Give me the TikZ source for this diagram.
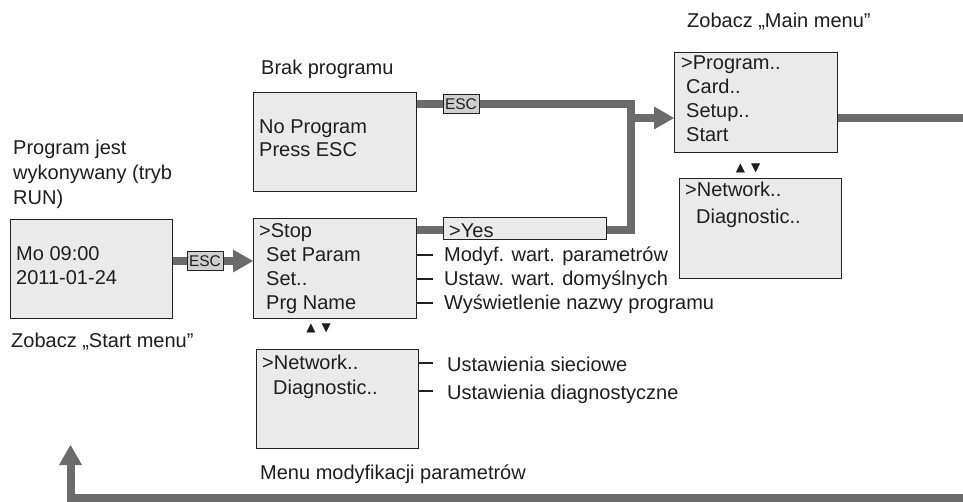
\documentclass[tikz,border=0pt]{standalone}
\usepackage{fontspec}
\setmainfont{Liberation Sans}
\newfontfamily\symf{DejaVu Sans}
\usetikzlibrary{arrows.meta}
\definecolor{boxfill}{HTML}{EAEAEA}
\definecolor{boxline}{HTML}{222222}
\definecolor{conn}{HTML}{6B6B6B}
\definecolor{escfill}{HTML}{CFCFCF}
\definecolor{ink}{HTML}{1E1E1E}
\begin{document}
\begin{tikzpicture}[x=1pt,y=-1pt,
  box/.style={draw=boxline,fill=boxfill,line width=1.3pt,inner sep=0pt,anchor=north west},
  lbl/.style={anchor=base west,inner sep=0pt,text=ink,font=\fontsize{20}{24}\selectfont},
  escbox/.style={draw=boxline,fill=escfill,line width=1pt,inner sep=0pt,minimum width=36pt,minimum height=19pt,font=\fontsize{15.5}{15.5}\selectfont,text=ink},
  wire/.style={draw=conn,line width=8pt},
  arr/.style={wire,-{Triangle[length=20pt,width=23pt,line width=0pt]}},
  tickln/.style={draw=boxline,line width=2pt},
  updn/.style={inner sep=0pt,font=\symf\fontsize{12}{12}\selectfont,text=ink}]
\useasboundingbox (0,0) rectangle (963,502);
\fill[white] (0,0) rectangle (963,502);

% boxes
\node[box,minimum width=162pt,minimum height=99pt] (run) at (10,219) {};
\node[box,minimum width=163pt,minimum height=99pt] (nop) at (253,92) {};
\node[box,minimum width=163pt,minimum height=100pt] (stop) at (253,218) {};
\node[box,minimum width=163pt,minimum height=22pt] (yes) at (443,217) {};
\node[box,minimum width=162pt,minimum height=99pt] (net) at (256,349) {};
\node[box,minimum width=163pt,minimum height=100pt] (main) at (674,52) {};
\node[box,minimum width=162pt,minimum height=100pt] (net2) at (679,178) {};

% connectors
\coordinate (a1) at (0,261);
\draw[arr] (a1 -| run.east) -- (a1 -| stop.west);
\node[escbox] (e1) at (205,261) {ESC};

\coordinate (j1) at (631,104);
\coordinate (j2) at (631,230);
\coordinate (j3) at (631,118);
\draw[wire] (j1 -| nop.east) -- (j1) -- (j2) -- (j2 -| yes.east);
\node[escbox] (e2) at (461,104) {ESC};
\draw[arr] (j3) -- (j3 -| main.west);
\draw[wire] (stop.east |- j2) -- (yes.west |- j2);

\coordinate (r1) at (975,118);
\draw[wire] (main.east |- r1) -- (r1);

\coordinate (b1) at (975,498);
\coordinate (b2) at (70.5,498);
\coordinate (b3) at (70.5,445);
\draw[arr] (b1) -- (b2) -- (b3);

% ticks
\foreach \yy in {255,279,303} \draw[tickln] (stop.east |- 0,\yy) -- ++(16,0);
\foreach \yy in {363,391} \draw[tickln] (net.east |- 0,\yy) -- ++(14,0);

% labels
\node[lbl] (l1) at (13,155) {Program jest};
\node[lbl] (l2) at (13,180) {wykonywany (tryb};
\node[lbl] (l3) at (13,205) {RUN)};
\node[lbl] (t1) at (16,261) {Mo 09:00};
\node[lbl] (t2) at (16,285) {2011-01-24};
\node[lbl] (l4) at (11,347) {Zobacz „Start menu”};

\node[lbl] (l5) at (261,75) {Brak programu};
\node[lbl] (t3) at (259,134) {No Program};
\node[lbl] (t4) at (259,157) {Press ESC};

\node[lbl] (t5) at (259,238) {>Stop};
\node[lbl] (t6) at (266,262) {Set Param};
\node[lbl] (t7) at (266,286) {Set..};
\node[lbl] (t8) at (266,310) {Prg Name};
\node[lbl] (t9) at (449,238) {>Yes};

\node[lbl] (m1) at (444,262) {Modyf. wart. parametrów};
\node[lbl] (m2) at (444,286) {Ustaw. wart. domyślnych};
\node[lbl] (m3) at (444,310) {Wyświetlenie nazwy programu};

\node[updn] (ud1) at (318.5,328) {▲\hspace{6pt}▼};

\node[lbl] (t10) at (262,369) {>Network..};
\node[lbl] (t11) at (273,394) {Diagnostic..};
\node[lbl] (m4) at (447,371) {Ustawienia sieciowe};
\node[lbl] (m5) at (447,399) {Ustawienia diagnostyczne};
\node[lbl] (l6) at (260,479) {Menu modyfikacji parametrów};

\node[lbl] (l7) at (687,28) {Zobacz „Main menu”};
\node[lbl] (t12) at (681,70) {>Program..};
\node[lbl] (t13) at (686,94) {Card..};
\node[lbl] (t14) at (686,118) {Setup..};
\node[lbl] (t15) at (686,142) {Start};
\node[updn] (ud2) at (748,168) {▲\hspace{6pt}▼};
\node[lbl] (t16) at (685,197) {>Network..};
\node[lbl] (t17) at (696,224) {Diagnostic..};
\end{tikzpicture}
\end{document}
